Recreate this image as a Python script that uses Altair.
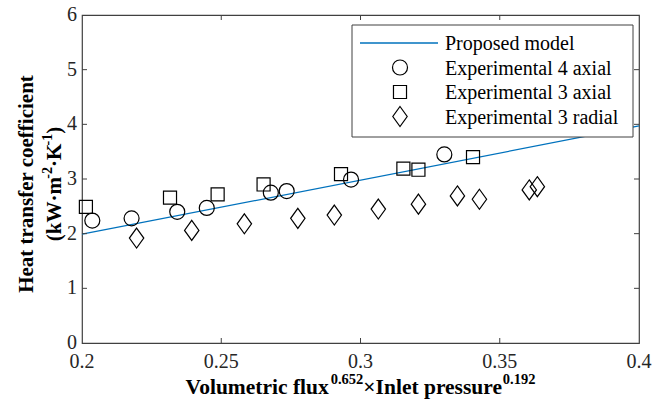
import altair as alt
import pandas as pd

# ---- data ---------------------------------------------------------------
# Proposed model (heat transfer coefficient vs. combined flux/pressure group)
model_x = [0.2, 0.4]
model_h = [1.99, 3.97]

# Experimental 4 axial
ax4_x = [0.2037, 0.2178, 0.2342, 0.2448, 0.2678, 0.2735, 0.2966, 0.3301]
ax4_h = [2.24, 2.28, 2.40, 2.47, 2.75, 2.78, 2.99, 3.45]

# Experimental 3 axial
ax3_x = [0.2014, 0.2316, 0.2487, 0.2652, 0.2930, 0.3154, 0.3208, 0.3404]
ax3_h = [2.49, 2.66, 2.72, 2.90, 3.09, 3.19, 3.17, 3.40]

# Experimental 3 radial
rad3_x = [0.2196, 0.2394, 0.2583, 0.2775, 0.2906, 0.3064, 0.3208, 0.3348,
          0.3427, 0.3606, 0.3635]
rad3_h = [1.92, 2.06, 2.18, 2.28, 2.34, 2.45, 2.54, 2.69, 2.63, 2.80, 2.86]

x_ticks = [0.2, 0.25, 0.3, 0.35, 0.4]
x_tick_labels = ["0.2", "0.25", "0.3", "0.35", "0.4"]
y_ticks = [0, 1, 2, 3, 4, 5, 6]
y_tick_labels = ["0", "1", "2", "3", "4", "5", "6"]

legend_labels = ["Proposed model", "Experimental 4 axial",
                 "Experimental 3 axial", "Experimental 3 radial"]

# axis titles as (text, superscript?) runs
x_title_runs = [("Volumetric flux", False), ("0.652", True),
                ("\u00d7Inlet pressure", False), ("0.192", True)]
y_title_line1 = "Heat transfer coefficient"
y_title_runs = [("(kW\u00b7m", False), ("-2", True), ("\u00b7K", False),
                ("-1", True), (")", False)]

# ---- styling --------------------------------------------------------------
FONT = "Liberation Serif"
INK = "#262626"
FRAME = "#404040"
BLUE = "#0072BD"
W, H = 557, 328
TICK = 5
DIAMOND = "M0,-1L0.72,0L0,1L-0.72,0Z"

# advance widths (1/1000 em) of the bold serif face, for laying out runs
BOLD_ADV = {
    "(": 333, ")": 333, "k": 556, "W": 1000, "\u00b7": 250, "m": 833,
    "-": 333, "0": 500, "1": 500, "2": 500, "5": 500, "6": 500, "9": 500,
    ".": 250, "K": 778, "\u00d7": 570, "I": 389, "n": 556, "l": 278,
    "e": 444, "t": 333, " ": 250, "p": 556, "r": 444, "s": 389, "u": 556,
    "V": 722, "o": 500, "c": 444, "i": 278, "f": 333, "x": 500, "H": 778,
    "a": 500,
}


def run_width(text, size):
    return sum(BOLD_ADV.get(ch, 500) for ch in text) * size / 1000.0


def layout(runs, main, sup):
    """Return (text, offset, size, is_sup) for each run and the total width."""
    out, pos = [], 0.0
    for text, is_sup in runs:
        size = sup if is_sup else main
        out.append((text, pos, size, is_sup))
        pos += run_width(text, size)
    return out, pos


xs = alt.Scale(domain=[x_ticks[0], x_ticks[-1]], nice=False, zero=False)
ys = alt.Scale(domain=[y_ticks[0], y_ticks[-1]], nice=False, zero=False)


def xq(field):
    return alt.X(field, type="quantitative", scale=xs, axis=None)


def yq(field):
    return alt.Y(field, type="quantitative", scale=ys, axis=None)


# ---- model line -----------------------------------------------------------
model_df = pd.DataFrame({"x": model_x, "h": model_h})
model = alt.Chart(model_df).mark_line(color=BLUE, strokeWidth=1.3).encode(
    x=xq("x"), y=yq("h"))


def scatter(xv, hv, shape, size):
    df = pd.DataFrame({"x": xv, "h": hv})
    return alt.Chart(df).mark_point(
        shape=shape, size=size, filled=False, color="black",
        strokeWidth=1.2, opacity=1,
    ).encode(x=xq("x"), y=yq("h"))


pts_ax4 = scatter(ax4_x, ax4_h, "circle", 225)
pts_ax3 = scatter(ax3_x, ax3_h, "square", 170)
pts_rad3 = scatter(rad3_x, rad3_h, DIAMOND, 400)

# ---- inward ticks on all four sides, with serif tick labels -----------------
xt_df = pd.DataFrame({"v": x_ticks[1:-1]})
yt_df = pd.DataFrame({"v": y_ticks[1:-1]})
tick_style = dict(color=FRAME, strokeWidth=1)
ticks = [
    alt.Chart(xt_df).mark_rule(**tick_style).encode(
        x=xq("v"), y=alt.value(H), y2=alt.value(H - TICK)),
    alt.Chart(xt_df).mark_rule(**tick_style).encode(
        x=xq("v"), y=alt.value(0), y2=alt.value(TICK)),
    alt.Chart(yt_df).mark_rule(**tick_style).encode(
        y=yq("v"), x=alt.value(0), x2=alt.value(TICK)),
    alt.Chart(yt_df).mark_rule(**tick_style).encode(
        y=yq("v"), x=alt.value(W), x2=alt.value(W - TICK)),
]

xl_df = pd.DataFrame({"v": x_ticks, "t": x_tick_labels})
yl_df = pd.DataFrame({"v": y_ticks, "t": y_tick_labels})
tick_labels = [
    alt.Chart(xl_df).mark_text(font=FONT, fontSize=20, color=INK,
                               align="center", baseline="top").encode(
        x=xq("v"), y=alt.value(H + 9), text="t:N"),
    alt.Chart(yl_df).mark_text(font=FONT, fontSize=20, color=INK,
                               align="right", baseline="middle").encode(
        y=yq("v"), x=alt.value(-5), text="t:N"),
]


def label(text, x, y, size=20, bold=True, angle=0, align="left",
          baseline="alphabetic", color="black"):
    df = pd.DataFrame({"t": [text]})
    kw = dict(font=FONT, fontSize=size, fontWeight="bold" if bold else "normal",
              align=align, baseline=baseline, color=color)
    if angle:
        kw["angle"] = angle
    return alt.Chart(df).mark_text(**kw).encode(
        text="t:N", x=alt.value(x), y=alt.value(y))


# ---- legend -----------------------------------------------------------------
LX0, LX1, LY0, LY1 = 270, 551, 10, 122
legend_box = alt.Chart(pd.DataFrame({"k": [0]})).mark_rect(
    fill="white", stroke=FRAME, strokeWidth=1).encode(
    x=alt.value(LX0), x2=alt.value(LX1), y=alt.value(LY0), y2=alt.value(LY1))

row_base = [35, 59.5, 84, 108.5]
sym_x = 318
legend_line = alt.Chart(pd.DataFrame({"k": [0]})).mark_rule(
    color=BLUE, strokeWidth=1.3).encode(
    x=alt.value(278), x2=alt.value(356), y=alt.value(row_base[0] - 7))


def legend_symbol(shape, size, y):
    return alt.Chart(pd.DataFrame({"k": [0]})).mark_point(
        shape=shape, size=size, filled=False, color="black", strokeWidth=1.2,
        opacity=1).encode(x=alt.value(sym_x), y=alt.value(y))


legend_syms = [
    legend_symbol("circle", 225, row_base[1] - 7),
    legend_symbol("square", 170, row_base[2] - 7),
    legend_symbol(DIAMOND, 400, row_base[3] - 7),
]
legend_texts = [label(t, 363, yb, bold=False, color="black")
                for t, yb in zip(legend_labels, row_base)]

# ---- axis titles with superscripts -----------------------------------------
XT_MAIN, XT_SUP = 21.5, 14.5
XT_CENTER, XT_BASE = W / 2, 379
runs, total = layout(x_title_runs, XT_MAIN, XT_SUP)
x0 = XT_CENTER - total / 2
x_title = [label(t, x0 + off, XT_BASE - (0.45 * XT_MAIN if sup else 0), size=s)
           for t, off, s, sup in runs]

YT_MAIN, YT_SUP = 21, 14
YT_CENTER = 169
YT_BASE1, YT_BASE2 = -49, -21
runs, total = layout(y_title_runs, YT_MAIN, YT_SUP)
y0 = YT_CENTER + total / 2
y_title = [label(y_title_line1, YT_BASE1, YT_CENTER, size=YT_MAIN,
                 angle=270, align="center")]
y_title += [label(t, YT_BASE2 - (0.45 * YT_MAIN if sup else 0), y0 - off,
                  size=s, angle=270)
            for t, off, s, sup in runs]

chart = alt.layer(
    model, pts_ax4, pts_ax3, pts_rad3, *ticks, *tick_labels,
    legend_box, legend_line, *legend_syms, *legend_texts,
    *x_title, *y_title,
).properties(
    width=W, height=H,
    autosize=alt.AutoSizeParams(type="none"),
    padding={"left": 82, "top": 15, "right": 26, "bottom": 58},
    background="white",
).configure_view(
    stroke=FRAME, strokeWidth=1.2
)

chart.save("out.html", embed_options={"renderer": "svg", "actions": False})
